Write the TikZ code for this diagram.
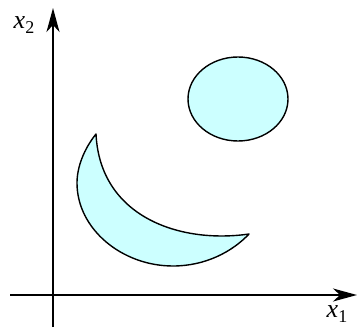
\documentclass[tikz,border=0pt]{standalone}
\usepackage{fontspec}
\setmainfont{Liberation Serif}
\usetikzlibrary{arrows.meta}
\definecolor{regionfill}{HTML}{CCFFFF}
\begin{document}
\begin{tikzpicture}[x=1pt,y=1pt,
  axis/.style={line width=1.8pt,-{Stealth[length=24pt,width=13pt,inset=7pt]}},
  region/.style={draw=black,line width=1.4pt,fill=regionfill,line join=round},
  lbl/.style={font=\rmfamily\fontsize{26}{26}\selectfont,inner sep=0pt}]
\useasboundingbox (0,0) rectangle (358,327);
% axes
\coordinate (ybot) at (53,0);
\coordinate (ytop) at (53,319);
\coordinate (xleft) at (10,32);
\coordinate (xright) at (357,32);
\draw[axis] (ybot) -- (ytop);
\draw[axis] (xleft) -- (xright);
\node[lbl] (lx2) at (24,302) {{\itshape x}\raisebox{-0.2em}{\fontsize{18}{18}\selectfont 2}};
\node[lbl] (lx1) at (337,13) {{\itshape x}\raisebox{-0.2em}{\fontsize{18}{18}\selectfont 1}};
% ellipse region
\draw[region] (238,228) ellipse [x radius=50, y radius=42];
% crescent region
\draw[region] (96,193)
  .. controls (84,178) and (77,160) .. (77,144)
  .. controls (77,98) and (122,61) .. (173,61)
  .. controls (205,61) and (232,75) .. (249,93)
  .. controls (180,83) and (100,110) .. (96,193)
  -- cycle;
\end{tikzpicture}
\end{document}
